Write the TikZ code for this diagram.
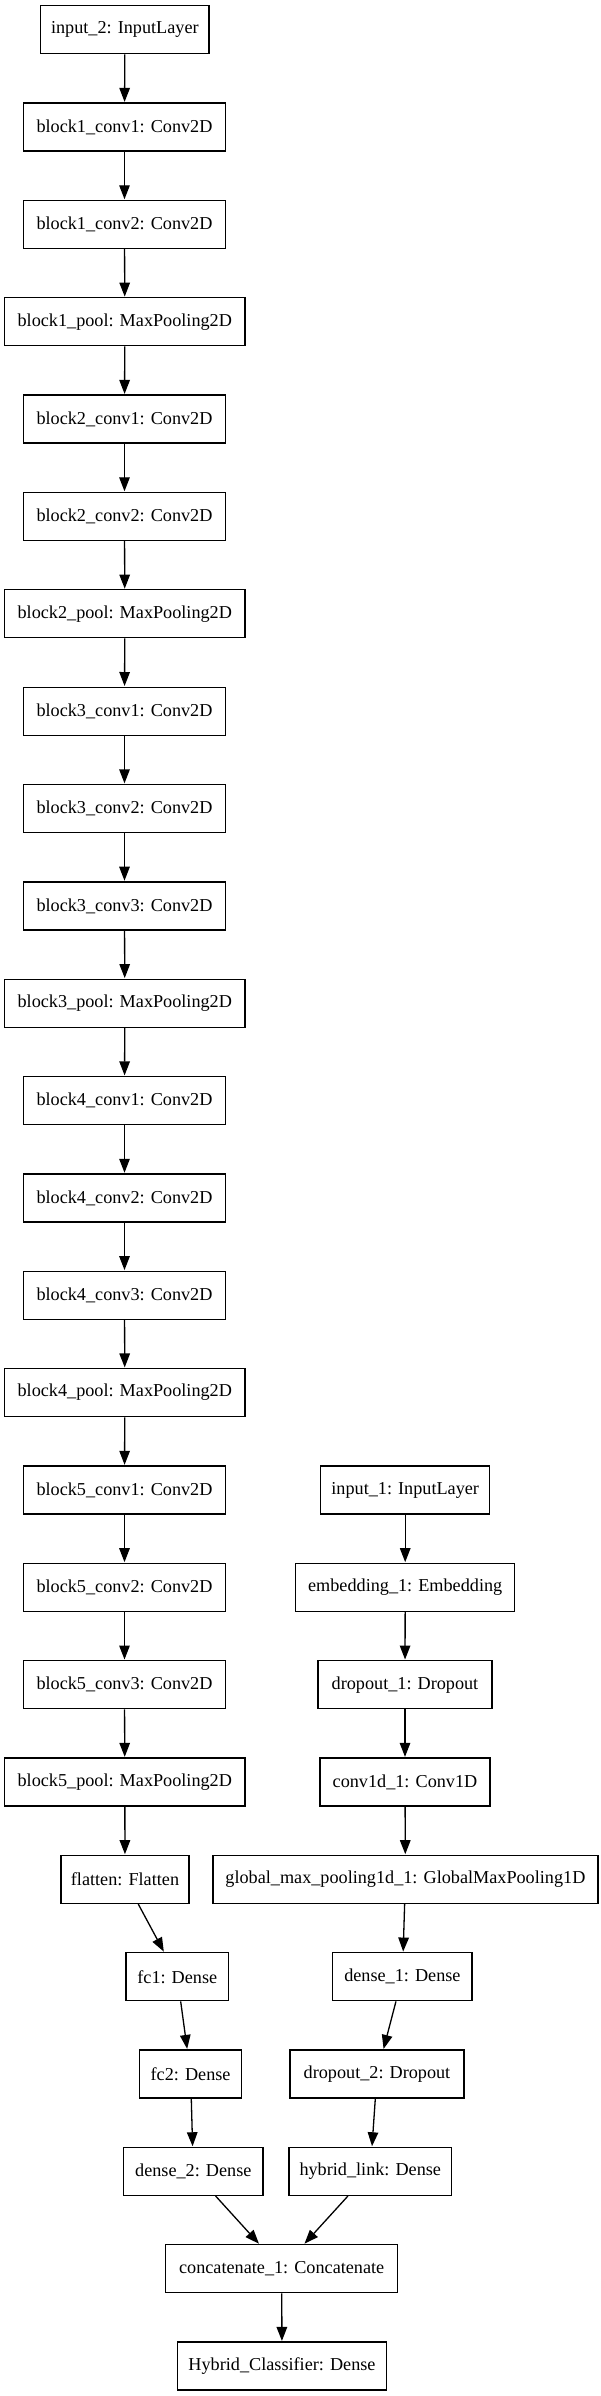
\documentclass[tikz,border=0pt]{standalone}
\usepackage{fontspec}
\setmainfont{Liberation Serif}
\usetikzlibrary{arrows.meta}
\begin{document}
\begin{tikzpicture}[x=1pt,y=-1pt,
  layer/.style={draw=black,line width=1.3pt,minimum height=48pt,inner sep=0pt,
    font=\fontsize{18.2}{20}\selectfont,text=black},
  edge/.style={draw=black,line width=1.3pt,-{Triangle[length=14pt,width=10.5pt]},shorten >=0.5pt}]
\useasboundingbox (0,0) rectangle (600,2396);
\def\rowy#1{{29.7+97.35*#1}}
% left column
\node[layer,minimum width=168.3pt] (in2) at (124.85,\rowy{0}) {input\_2: InputLayer};
\node[layer,minimum width=202.4pt] (b1c1) at (124.5,\rowy{1}) {block1\_conv1: Conv2D};
\node[layer,minimum width=202.4pt] (b1c2) at (124.5,\rowy{2}) {block1\_conv2: Conv2D};
\node[layer,minimum width=240.4pt] (b1p) at (124.8,\rowy{3}) {block1\_pool: MaxPooling2D};
\node[layer,minimum width=202.4pt] (b2c1) at (124.5,\rowy{4}) {block2\_conv1: Conv2D};
\node[layer,minimum width=202.4pt] (b2c2) at (124.5,\rowy{5}) {block2\_conv2: Conv2D};
\node[layer,minimum width=240.4pt] (b2p) at (124.8,\rowy{6}) {block2\_pool: MaxPooling2D};
\node[layer,minimum width=202.4pt] (b3c1) at (124.5,\rowy{7}) {block3\_conv1: Conv2D};
\node[layer,minimum width=202.4pt] (b3c2) at (124.5,\rowy{8}) {block3\_conv2: Conv2D};
\node[layer,minimum width=202.4pt] (b3c3) at (124.5,\rowy{9}) {block3\_conv3: Conv2D};
\node[layer,minimum width=240.4pt] (b3p) at (124.8,\rowy{10}) {block3\_pool: MaxPooling2D};
\node[layer,minimum width=202.4pt] (b4c1) at (124.5,\rowy{11}) {block4\_conv1: Conv2D};
\node[layer,minimum width=202.4pt] (b4c2) at (124.5,\rowy{12}) {block4\_conv2: Conv2D};
\node[layer,minimum width=202.4pt] (b4c3) at (124.5,\rowy{13}) {block4\_conv3: Conv2D};
\node[layer,minimum width=240.4pt] (b4p) at (124.8,\rowy{14}) {block4\_pool: MaxPooling2D};
\node[layer,minimum width=202.4pt] (b5c1) at (124.5,\rowy{15}) {block5\_conv1: Conv2D};
\node[layer,minimum width=202.4pt] (b5c2) at (124.5,\rowy{16}) {block5\_conv2: Conv2D};
\node[layer,minimum width=202.4pt] (b5c3) at (124.5,\rowy{17}) {block5\_conv3: Conv2D};
\node[layer,minimum width=240.4pt] (b5p) at (124.8,\rowy{18}) {block5\_pool: MaxPooling2D};
\node[layer,minimum width=128pt] (flat) at (125,\rowy{19}) {flatten: Flatten};
\node[layer,minimum width=102.5pt] (fc1) at (177.3,\rowy{20}) {fc1: Dense};
\node[layer,minimum width=102pt] (fc2) at (190.6,\rowy{21}) {fc2: Dense};
\node[layer,minimum width=139.5pt] (d2) at (193.3,\rowy{22}) {dense\_2: Dense};
% right column
\node[layer,minimum width=168.8pt] (in1) at (405.2,\rowy{15}) {input\_1: InputLayer};
\node[layer,minimum width=218.8pt] (emb) at (405.2,\rowy{16}) {embedding\_1: Embedding};
\node[layer,minimum width=174pt] (do1) at (405,\rowy{17}) {dropout\_1: Dropout};
\node[layer,minimum width=170pt] (c1d) at (405,\rowy{18}) {conv1d\_1: Conv1D};
\node[layer,minimum width=385pt] (gmp) at (405.4,\rowy{19}) {global\_max\_pooling1d\_1: GlobalMaxPooling1D};
\node[layer,minimum width=139.3pt] (d1) at (402.4,\rowy{20}) {dense\_1: Dense};
\node[layer,minimum width=174pt] (do2) at (377,\rowy{21}) {dropout\_2: Dropout};
\node[layer,minimum width=162.5pt] (hl) at (370.3,\rowy{22}) {hybrid\_link: Dense};
% merge
\node[layer,minimum width=232pt] (cat) at (281.7,\rowy{23}) {concatenate\_1: Concatenate};
\node[layer,minimum width=209pt] (hc) at (282,\rowy{24}) {Hybrid\_Classifier: Dense};
% edges
\foreach \a/\b in {in2/b1c1,b1c1/b1c2,b1c2/b1p,b1p/b2c1,b2c1/b2c2,b2c2/b2p,b2p/b3c1,
  b3c1/b3c2,b3c2/b3c3,b3c3/b3p,b3p/b4c1,b4c1/b4c2,b4c2/b4c3,b4c3/b4p,b4p/b5c1,
  b5c1/b5c2,b5c2/b5c3,b5c3/b5p,b5p/flat,flat/fc1,fc1/fc2,fc2/d2,d2/cat,
  in1/emb,emb/do1,do1/c1d,c1d/gmp,gmp/d1,d1/do2,do2/hl,hl/cat,cat/hc}
  \draw[edge] (\a) -- (\b);
\end{tikzpicture}
\end{document}
